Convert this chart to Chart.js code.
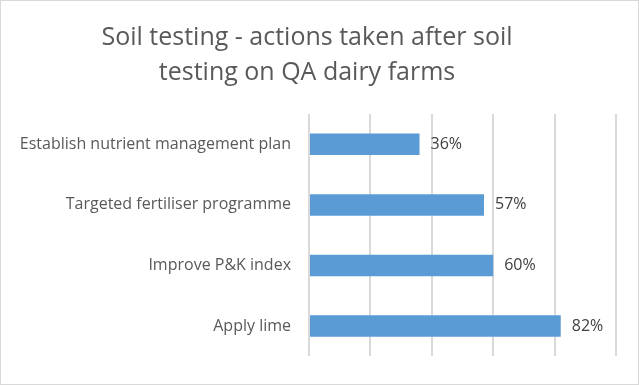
<!DOCTYPE html>
<html>
<head>
<meta charset="utf-8">
<script src="https://cdn.jsdelivr.net/npm/chart.js@4/dist/chart.umd.min.js"></script>
<style>
html,body{margin:0;padding:0;background:#fff;}
#wrap{position:absolute;left:0;top:0;width:637px;height:383px;border:1px solid #d9d9d9;background:#fff;}
canvas{display:block;}
</style>
</head>
<body>
<div id="wrap"><canvas id="c" width="637" height="383"></canvas></div>
<script>
const titleLines = ["Soil testing - actions taken after soil", "testing on QA dairy farms"];
const categories = ["Establish nutrient management plan", "Targeted fertiliser programme", "Improve P&K index", "Apply lime"];
const values = [36, 57, 60, 82];
const axisMin = 0;
const axisMax = 100;
const axisStep = 20;

const FONT = "'Open Sans', Lato, sans-serif";

const titleDraw = {
  id: 'titleDraw',
  afterDraw(chart) {
    const ctx = chart.ctx;
    ctx.save();
    ctx.font = "25px " + FONT;
    ctx.fillStyle = "#595959";
    ctx.textAlign = "center";
    ctx.textBaseline = "alphabetic";
    ctx.fillText(titleLines[0], 306, 44);
    ctx.fillText(titleLines[1], 306, 79);
    ctx.restore();
  }
};

const barLabels = {
  id: 'barLabels',
  afterDatasetsDraw(chart) {
    const ctx = chart.ctx;
    const meta = chart.getDatasetMeta(0);
    ctx.save();
    ctx.font = "16px " + FONT;
    ctx.fillStyle = "#404040";
    ctx.textBaseline = "middle";
    ctx.textAlign = "left";
    meta.data.forEach((bar, i) => {
      ctx.fillText(values[i] + "%", bar.x + 11, bar.y);
    });
    ctx.restore();
  }
};

new Chart(document.getElementById('c'), {
  type: 'bar',
  data: {
    labels: categories,
    datasets: [{
      data: values,
      backgroundColor: '#5b9bd5',
      borderWidth: 0,
      barPercentage: 0.71,
      categoryPercentage: 0.5
    }]
  },
  plugins: [barLabels, titleDraw],
  options: {
    indexAxis: 'y',
    responsive: false,
    animation: false,
    layout: { padding: { left: 10, right: 22, top: 113, bottom: 24 } },
    plugins: {
      legend: { display: false },
      tooltip: { enabled: false },
      title: { display: false }
    },
    scales: {
      x: {
        min: axisMin,
        max: axisMax,
        ticks: { stepSize: axisStep, display: false },
        grid: { color: '#d9d9d9', lineWidth: 2, drawTicks: false },
        border: { display: false }
      },
      y: {
        grid: { display: false, drawTicks: false },
        border: { display: false },
        ticks: { color: '#595959', font: { family: FONT, size: 16 }, padding: 18 },
        afterFit(scale) { scale.width = 298; }
      }
    }
  }
});
</script>
</body>
</html>
